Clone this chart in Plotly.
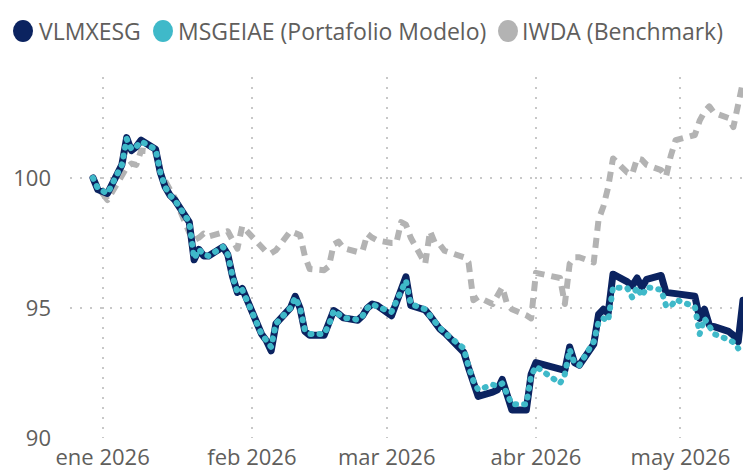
import plotly.graph_objects as go

dates = [
    "2025-12-30", "2025-12-31", "2026-01-02", "2026-01-05", "2026-01-06", "2026-01-07", "2026-01-08", "2026-01-09",
    "2026-01-12", "2026-01-13", "2026-01-14", "2026-01-15", "2026-01-16", "2026-01-19", "2026-01-20", "2026-01-21",
    "2026-01-22", "2026-01-23", "2026-01-26", "2026-01-27", "2026-01-28", "2026-01-29", "2026-01-30", "2026-02-03",
    "2026-02-04", "2026-02-05", "2026-02-06", "2026-02-09", "2026-02-10", "2026-02-11", "2026-02-12", "2026-02-13",
    "2026-02-16", "2026-02-17", "2026-02-18", "2026-02-19", "2026-02-20", "2026-02-23", "2026-02-24", "2026-02-25",
    "2026-02-26", "2026-02-27", "2026-03-02", "2026-03-03", "2026-03-04", "2026-03-05", "2026-03-06", "2026-03-09",
    "2026-03-10", "2026-03-11", "2026-03-12", "2026-03-13", "2026-03-17", "2026-03-18", "2026-03-19", "2026-03-20",
    "2026-03-23", "2026-03-24", "2026-03-25", "2026-03-26", "2026-03-27", "2026-03-30", "2026-03-31", "2026-04-01",
    "2026-04-06", "2026-04-07", "2026-04-08", "2026-04-09", "2026-04-10", "2026-04-13", "2026-04-14", "2026-04-15",
    "2026-04-16", "2026-04-17", "2026-04-20", "2026-04-21", "2026-04-22", "2026-04-23", "2026-04-24", "2026-04-27",
    "2026-04-28", "2026-04-29", "2026-04-30", "2026-05-04", "2026-05-05", "2026-05-06", "2026-05-07", "2026-05-08",
    "2026-05-11", "2026-05-12", "2026-05-13", "2026-05-14",
]

vlmxesg = [
    100.0, 99.55, 99.4, 100.5, 101.55, 101.05, 101.2, 101.45,
    101.1, 100.2, 99.65, 99.33, 99.15, 98.3, 96.85, 97.25,
    97.0, 97.0, 97.35, 97.05, 96.2, 95.6, 95.75, 94.0,
    93.75, 93.35, 94.4, 95.0, 95.45, 95.0, 94.1, 93.95,
    93.95, 94.35, 94.9, 94.78, 94.62, 94.53, 94.7, 95.0,
    95.15, 95.1, 94.7, 95.2, 95.7, 96.2, 95.1, 94.92,
    94.7, 94.42, 94.2, 94.05, 93.3, 92.7, 92.2, 91.6,
    91.76, 91.85, 92.25, 91.7, 91.08, 91.08, 92.45, 92.9,
    92.7, 92.6, 93.5, 92.9, 92.8, 93.6, 94.75, 94.95,
    94.8, 96.3, 96.0, 95.85, 96.15, 95.8, 96.1, 96.25,
    95.6, 95.6, 95.55, 95.45, 94.6, 94.95, 94.35, 94.28,
    94.1, 93.95, 93.7, 95.3,
]

msgeiae = [
    100.0, 99.6, 99.4, 100.5, 101.5, 101.1, 101.2, 101.4,
    101.1, 100.2, 99.65, 99.33, 99.15, 98.3, 96.9, 97.25,
    97.05, 97.0, 97.35, 97.05, 96.2, 95.6, 95.7, 94.0,
    93.75, 93.5, 94.4, 95.0, 95.4, 95.0, 94.15, 94.0,
    94.0, 94.35, 94.9, 94.78, 94.62, 94.55, 94.7, 95.0,
    95.15, 95.05, 94.85, 95.25, 95.7, 96.05, 95.15, 94.95,
    94.7, 94.45, 94.25, 94.05, 93.45, 92.75, 92.2, 91.85,
    92.05, 92.0, 92.1, 91.7, 91.3, 91.3, 92.4, 92.75,
    92.1, 92.45, 93.4, 92.88, 92.8, 93.7, 94.45, 94.6,
    94.5, 95.8, 95.75, 95.4, 95.8, 95.45, 95.8, 95.7,
    95.1, 95.05, 95.32, 95.05, 94.0, 94.6, 94.3, 94.0,
    93.78, 93.68, 93.45, None,
]

iwda = [
    100.0, 99.65, 99.15, 100.15, 100.4, 100.55, 100.5, 101.05,
    101.0, 100.2, 99.85, 99.53, 99.22, 97.9, 97.6, 97.7,
    97.86, 97.75, 97.9, 97.95, 97.6, 97.28, 98.15, 97.33,
    97.15, 97.1, 97.22, 97.95, 97.85, 97.8, 97.0, 96.5,
    96.45, 96.6, 97.45, 97.55, 97.3, 97.15, 97.2, 97.85,
    97.7, 97.6, 97.5, 97.5, 98.3, 98.2, 97.7, 96.7,
    97.95, 97.5, 97.45, 97.2, 96.95, 96.75, 95.3, 95.42,
    95.15, 95.45, 95.8, 95.15, 94.95, 94.72, 94.6, 96.35,
    96.15, 95.15, 96.7, 96.95, 96.95, 96.75, 98.4, 98.9,
    99.65, 100.75, 100.2, 100.15, 100.75, 100.7, 100.5, 100.3,
    100.05, 100.85, 101.45, 101.65, 102.2, 102.55, 102.75, 102.5,
    102.3, 101.95, 102.9, 103.7,
]

series_names = ["VLMXESG", "MSGEIAE (Portafolio Modelo)", "IWDA (Benchmark)"]
series_colors = ["#0b2360", "#3fb9c9", "#b3b3b3"]

month_ticks = ["2026-01-01", "2026-02-01", "2026-03-01", "2026-04-01", "2026-05-01"]
month_labels = ["ene 2026", "feb 2026", "mar 2026", "abr 2026", "may 2026"]
y_ticks = [90, 95, 100]

FONT = "Segoe UI, Open Sans, sans-serif"
TXT = "#605e5c"
GRID = "#c8c8c8"

W, H = 743, 471
ML, MR, MT, MB = 70, 0, 77, 33
PW, PH = W - ML - MR, H - MT - MB


def px_x(p):
    return (p - ML) / PW


def px_y(p):
    return (H - MB - p) / PH


fig = go.Figure()

fig.add_trace(go.Scatter(x=dates, y=iwda, mode="lines", name=series_names[2], showlegend=False,
                         line=dict(color=series_colors[2], width=6, dash="10px,7px")))
fig.add_trace(go.Scatter(x=dates, y=vlmxesg, mode="lines", name=series_names[0], showlegend=False,
                         line=dict(color=series_colors[0], width=7)))
fig.add_trace(go.Scatter(x=dates, y=msgeiae, mode="lines", name=series_names[1], showlegend=False,
                         line=dict(color=series_colors[1], width=6, dash="1px,8px")))

# legend drawn as circles + labels across the top
legend_circle_x = [23, 163, 508]
legend_text_x = [37, 176, 520]
legend_y = 31
R = 10
for nm, col, cx, tx in zip(series_names, series_colors, legend_circle_x, legend_text_x):
    fig.add_shape(type="circle", xref="paper", yref="paper",
                  x0=px_x(cx - R), x1=px_x(cx + R), y0=px_y(legend_y + R + 1), y1=px_y(legend_y - R - 1),
                  fillcolor=col, line=dict(width=0), layer="above")
    fig.add_annotation(text=nm, xref="paper", yref="paper", x=px_x(tx), y=px_y(legend_y),
                       xanchor="left", yanchor="middle", showarrow=False,
                       font=dict(family=FONT, size=23, color=TXT))

fig.update_layout(
    width=W, height=H,
    margin=dict(l=ML, r=MR, t=MT, b=MB, autoexpand=False),
    paper_bgcolor="white", plot_bgcolor="white",
    font=dict(family=FONT, size=22, color=TXT),
    showlegend=False,
    xaxis=dict(type="date", range=["2025-12-25 05:30", "2026-05-14 00:00"],
               tickmode="array", tickvals=month_ticks, ticktext=month_labels,
               showgrid=True, gridcolor=GRID, gridwidth=2, griddash="2px,8px",
               zeroline=False, showline=False, ticks="", automargin=False,
               ticklabelstandoff=4,
               tickfont=dict(family=FONT, size=22, color=TXT)),
    yaxis=dict(range=[90, 103.88], tickmode="array", tickvals=y_ticks,
               showgrid=True, gridcolor=GRID, gridwidth=2, griddash="2px,8px",
               zeroline=False, showline=False, ticks="", automargin=False,
               ticklabelstandoff=18,
               tickfont=dict(family=FONT, size=22, color=TXT)),
)

post = """
document.body.style.margin = '0';
document.body.style.padding = '0';
document.documentElement.style.overflow = 'hidden';
var gd = document.getElementById('{plot_id}');
var tr = gd.querySelectorAll('.scatterlayer .trace');
tr.forEach(function(t, i){
  var p = t.querySelector('path.js-line');
  if(!p) return;
  p.style.strokeLinejoin = 'round';
  if(i === 1 || i === 2){ p.style.strokeLinecap = 'round'; }
});
"""

fig.write_html("out.html", post_script=post, config={"displayModeBar": False})
